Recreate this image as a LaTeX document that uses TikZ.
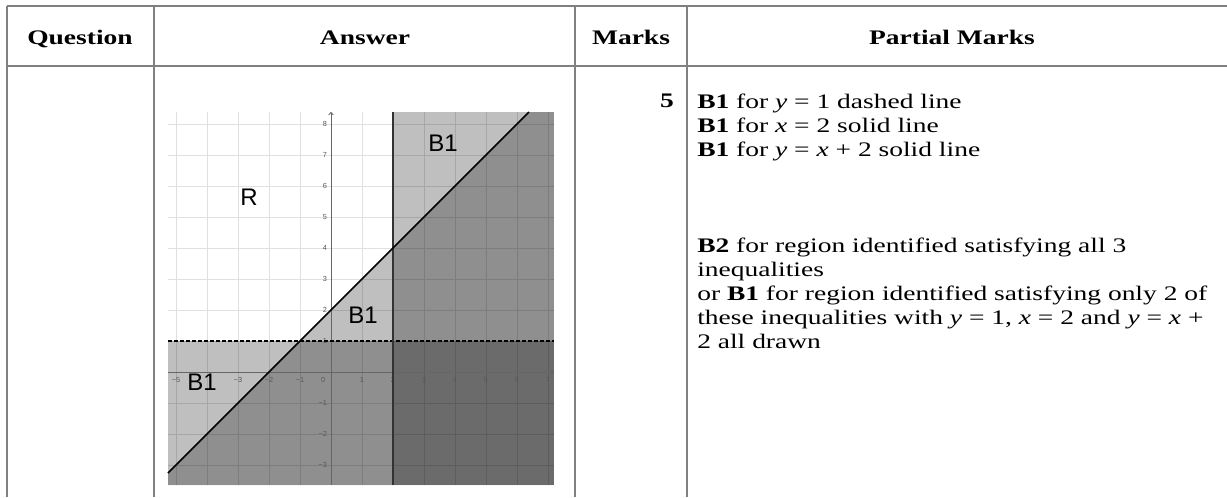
\documentclass[tikz,border=0pt]{standalone}
\usepackage{graphicx}
\usepackage{fontspec}
\setmainfont{Liberation Serif}
\newfontfamily\arialf{Liberation Sans}
\usetikzlibrary{arrows.meta}
\newcommand{\sx}[1]{\scalebox{1.33}[1]{#1}}
\begin{document}
\begin{tikzpicture}[x=0.75pt,y=-0.75pt,
  rule/.style={draw=black!50, line width=1.1pt},
  head/.style={font=\fontsize{15.5}{18}\selectfont\bfseries, anchor=base, inner sep=0pt},
  body/.style={font=\fontsize{15.5}{18}\selectfont, anchor=base west, inner sep=0pt},
  gridc/.style={draw=black!12, line width=0.6pt},
  shade/.style={fill=black, fill opacity=0.25},
  axis/.style={draw=black!60, line width=0.6pt},
  tick/.style={font=\arialf\fontsize{5.5}{6}\selectfont, text=black!65, inner sep=0pt},
  big/.style={font=\arialf\fontsize{18}{20}\selectfont, inner sep=0pt},
  bdash/.style={draw=black, line width=0.9pt, dash pattern=on 3pt off 1.5pt},
  bline/.style={draw=black, line width=1.1pt},
  vline/.style={draw=black!80, line width=1.5pt}]
\useasboundingbox (0,0) rectangle (1227,497);
% table rules
\draw[rule] (7,6) -- (1227,6);
\draw[rule] (7,66) -- (1227,66);
\foreach \cx in {7,154,575,687} \draw[rule] (\cx,6) -- (\cx,497);
% headers
\node[head] (hq) at (80,44) {\sx{Question}};
\node[head] (ha) at (365,44) {\sx{Answer}};
\node[head] (hm) at (631,44) {\sx{Marks}};
\node[head] (hp) at (952,44) {\sx{Partial Marks}};
\node[head, anchor=base east] (mk) at (674,107) {\sx{5}};
% partial marks text
\node[body] (p1) at (697,108) {\sx{\textbf{B1} for \textit{y} = 1 dashed line}};
\node[body] (p2) at (697,132) {\sx{\textbf{B1} for \textit{x} = 2 solid line}};
\node[body] (p3) at (697,156) {\sx{\textbf{B1} for \textit{y} = \textit{x} + 2 solid line}};
\node[body] (p4) at (697,252) {\sx{\textbf{B2} for region identified satisfying all 3}};
\node[body] (p5) at (697,276) {\sx{inequalities}};
\node[body] (p6) at (697,300) {\sx{or \textbf{B1} for region identified satisfying only 2 of}};
\node[body] (p7) at (697,324) {\sx{these inequalities with \textit{y} = 1, \textit{x} = 2 and \textit{y} = \textit{x} +}};
\node[body] (p8) at (697,348) {\sx{2 all drawn}};
% graph
\begin{scope}[shift={(331,372)}, x=23.25pt, y=23.25pt]
  \def\gl{-5.258}\def\gr{7.19}\def\gb{-3.645}\def\gt{8.387}
  \fill[white] (\gl,\gb) rectangle (\gr,\gt);
  \foreach \i in {-5,...,7} \draw[gridc] (\i,\gb) -- (\i,\gt);
  \foreach \j in {-3,...,8} \draw[gridc] (\gl,\j) -- (\gr,\j);
  \fill[shade] (\gl,\gb) rectangle (\gr,1);
  \fill[shade] (2,\gb) rectangle (\gr,\gt);
  \fill[shade] (\gl,{\gl+2}) -- ({\gt-2},\gt) -- (\gr,\gt) -- (\gr,\gb) -- (\gl,\gb) -- cycle;
  \draw[axis, -{To[length=2.5pt,width=4pt]}] (0,\gb) -- (0,\gt);
  \draw[axis, -{To[length=2.5pt,width=4pt]}] (\gl,0) -- (\gr,0);
  \foreach \i/\t in {-5/−5,-3/−3,-2/−2,-1/−1,1/1,2/2,3/3,4/4,5/5,6/6,7/7}
    \node[tick] at (\i,-0.27) {\t};
  \node[tick] at (-0.25,-0.27) {0};
  \foreach \j/\t in {8/8,7/7,6/6,5/5,4/4,3/3,2/2,1/1,-1/−1,-2/−2,-3/−3}
    \node[tick, anchor=east] at (-0.12,\j) {\t};
  \draw[bdash] (\gl,1) -- (\gr,1);
  \draw[vline] (2,\gb) -- (2,\gt);
  \draw[bline] (\gl,{\gl+2}) -- ({\gt-2},\gt);
\end{scope}
\node[big] (lr) at (249,197) {R};
\node[big] (lb1) at (443,143) {B1};
\node[big] (lb2) at (363,315) {B1};
\node[big] (lb3) at (202,382) {B1};
\end{tikzpicture}
\end{document}
